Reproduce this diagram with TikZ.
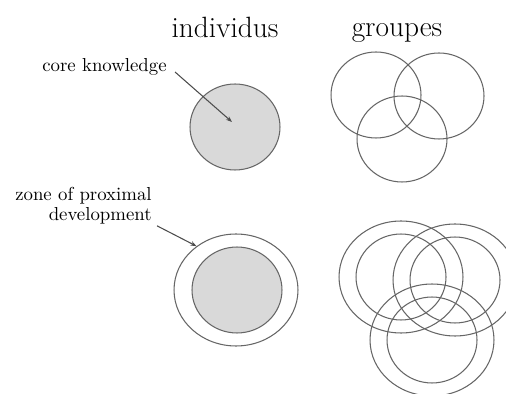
\documentclass[tikz,border=0pt]{standalone}
\usetikzlibrary{arrows.meta,shapes.geometric}

\begin{document}
\begin{tikzpicture}[
    x=0.02cm, y=-0.02cm,
    title/.style={font=\fontsize{16.7}{20}\selectfont, inner sep=0, anchor=base},
    labeltext/.style={font=\fontsize{10.7}{11.4}\selectfont, inner sep=0},
    core/.style={ellipse, draw=black!60, line width=0.6pt, minimum width=1.8cm, minimum height=1.72cm, inner sep=0},
    ring/.style={ellipse, draw=black!60, line width=0.6pt, minimum width=2.48cm, minimum height=2.24cm, inner sep=0},
    pointer/.style={-{Stealth[length=3.5pt,width=2.6pt]}, draw=black!70, line width=0.6pt},
    >=Stealth
]
\useasboundingbox (0,0) rectangle (506,394);
% column titles
\node[title] (indiv) at (225,38) {individus};
\node[title] (groups) at (397,37) {groupes};
% individual: core knowledge
\node[core, fill=black!15] (core) at (235,127) {};
\coordinate (coredot) at (232,122);
\node[labeltext, anchor=base west] (corelbl) at (42,72) {core knowledge};
\draw[pointer] ([shift={(8,0)}]corelbl.base east) -- (coredot);
% individual: zone of proximal development
\node[ring] (zpd) at (236,290) {};
\node[core, fill=black!15] (zpdcore) at (237,290) {};
\node[labeltext, align=right, anchor=east] (zpdlbl) at (152,206) {zone of proximal\\development};
\draw[pointer] ([shift={(5,1)}]zpdlbl.south east) -- (zpd.132);
% groups
\foreach \cx/\cy [count=\i] in {376/95, 439/96, 402/139}
  \node[core] (grp\i) at (\cx,\cy) {};
\foreach \cx/\cy [count=\i] in {401/277, 455/280, 432/340} {
  \node[ring] (grpring\i) at (\cx,\cy) {};
  \node[core] (grpcore\i) at (\cx,\cy) {};
}
\end{tikzpicture}
\end{document}
